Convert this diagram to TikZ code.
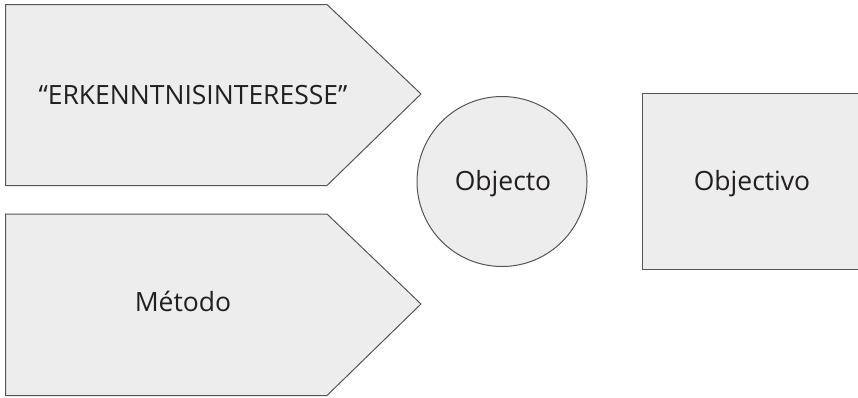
\documentclass[tikz,border=0pt]{standalone}
\usepackage{fontspec}
\setmainfont{Open Sans}
\definecolor{shapefill}{HTML}{EDEDED}
\definecolor{shapeline}{HTML}{555555}
\definecolor{txt}{HTML}{231F20}
\begin{document}
\begin{tikzpicture}[x=1pt,y=-1pt,
  shp/.style={fill=shapefill,draw=shapeline,line width=1pt,line join=miter},
  lbl/.style={text=txt,font=\fontsize{26.5}{32}\selectfont,inner sep=0pt}]
\useasboundingbox (0,0) rectangle (858,397);
% top pentagon
\draw[shp] (5.5,4.5) -- (327,4.5) -- (421,94) -- (327,185.5) -- (5.5,185.5) -- cycle;
\node[lbl] (erk) at (193,95) {“ERKENNTNISINTERESSE”};
% bottom pentagon
\draw[shp] (5.5,214) -- (327,214) -- (421,304) -- (327,395.5) -- (5.5,395.5) -- cycle;
\node[lbl] (met) at (183,301) {Método};
% circle
\node[shp,circle,minimum size=170pt,inner sep=0pt] (obj) at (502,181.5) {};
\node[lbl] (objt) at (503,184) {Objecto};
% rectangle
\draw[shp] (642,93) -- (858.5,93) -- (858.5,269) -- (642,269) -- cycle;
\node[lbl] (objv) at (752,184) {Objectivo};
\end{tikzpicture}
\end{document}
